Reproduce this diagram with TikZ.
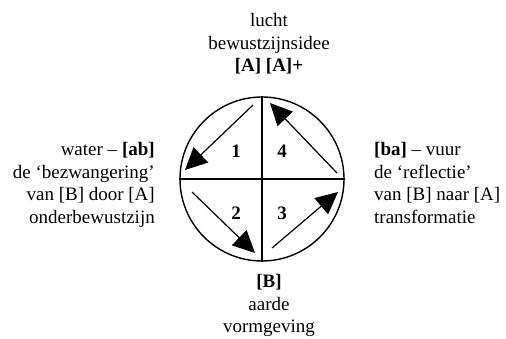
\documentclass[tikz,border=0pt]{standalone}
\usepackage{fontspec}
\setmainfont{Liberation Serif}
\usetikzlibrary{arrows.meta}
\begin{document}
\begin{tikzpicture}[x=1pt,y=-1pt,
  lbl/.style={inner sep=0pt, font=\fontsize{19}{22.5}\selectfont},
  num/.style={inner sep=0pt, font=\fontsize{19}{22}\selectfont\bfseries},
  ring/.style={line width=1.4pt},
  flow/.style={line width=1.2pt, -{Triangle[length=22pt,width=21pt]}}]
\useasboundingbox (0,0) rectangle (506,339);
\node[ring, draw, circle, minimum size=164pt, inner sep=0pt] (c) at (262,179) {};
\draw[ring] (c.north) -- (c.south);
\draw[ring] (c.west) -- (c.east);
\coordinate (a1) at (253,105); \coordinate (b1) at (185,170);
\coordinate (a2) at (192,192); \coordinate (b2) at (255,253);
\coordinate (a3) at (272,248); \coordinate (b3) at (338,192);
\coordinate (a4) at (337,173); \coordinate (b4) at (270,103);
\draw[flow] (a1) -- (b1);
\draw[flow] (a2) -- (b2);
\draw[flow] (a3) -- (b3);
\draw[flow] (a4) -- (b4);
\node[num] (n1) at (236,151) {1};
\node[num] (n4) at (282,151) {4};
\node[num] (n2) at (236,213) {2};
\node[num] (n3) at (282,213) {3};
\node[lbl, anchor=north, align=center] (top) at (269,13.5) {lucht\\bewustzijnsidee\\\textbf{[A] [A]+}};
\node[lbl, anchor=north, align=center] (bot) at (269,274.5) {\textbf{[B]}\\aarde\\vormgeving};
\node[lbl, anchor=north east, align=right] (left) at (155,142.5) {water -- \textbf{[ab]}\\de ‘bezwangering’\\van [B] door [A]\\onderbewustzijn};
\node[lbl, anchor=north west, align=left] (right) at (374,142.5) {\textbf{[ba]} -- vuur\\de ‘reflectie’\\van [B] naar [A]\\transformatie};
\end{tikzpicture}
\end{document}
